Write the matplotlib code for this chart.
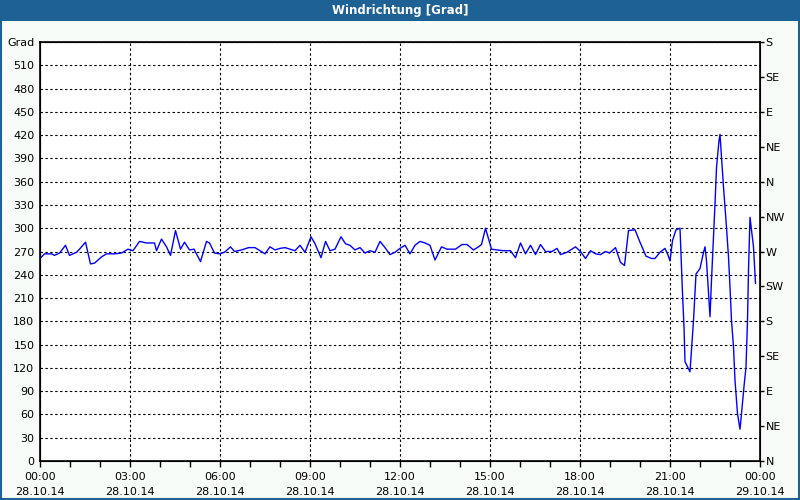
import numpy as np
import matplotlib.pyplot as plt
from matplotlib.patches import Rectangle

# ============================================================
# DATA
# ============================================================

# minutes after 28.10.14 00:00
MINUTES = [
    0, 9, 23, 29, 39, 51, 59, 73, 79, 91, 101, 109, 123, 133, 149, 163,
    176, 186, 199, 213, 229, 233, 243, 253, 261, 271, 281, 289, 299, 308,
    321, 333, 339, 349, 359, 369, 381, 389,
    403, 417, 430, 440, 450, 460, 470, 480, 490, 500, 510, 520, 530, 542,
    550, 562, 571, 580, 590, 602, 611, 620, 630, 640, 650, 660, 670, 680,
    690, 700, 710, 720, 730, 740, 750, 760, 770, 780, 790,
    803, 814, 831, 844, 854, 867, 877, 883, 891, 903, 914, 927, 941, 951,
    961, 971, 981, 991, 1001, 1011, 1024, 1034, 1041, 1054, 1071, 1081,
    1091, 1101, 1111, 1121, 1131, 1139, 1151, 1161, 1169, 1177, 1190,
    1200, 1212, 1223, 1230, 1240, 1250, 1255, 1260, 1265, 1272, 1280,
    1283, 1285, 1288, 1290, 1300, 1303, 1307, 1312, 1320, 1327, 1330,
    1333, 1337, 1340, 1343, 1347, 1350, 1353, 1358, 1360, 1363, 1367,
    1372, 1377, 1380, 1383, 1387, 1390, 1395, 1400, 1403, 1408, 1412,
    1415, 1417, 1420, 1422, 1427, 1430, 1431,
]

DIRECTION = [
    261, 267, 267, 265, 268, 278, 265, 269, 273, 282, 254, 255, 263, 267,
    267, 268, 273, 271, 283, 281, 281, 271, 286, 276, 265, 297, 273, 282,
    272, 273, 257, 283, 281, 268, 267, 269, 276, 270,
    272, 275, 275, 271, 267, 276, 272, 274, 275, 273, 271, 278, 269, 289,
    280, 262, 283, 271, 273, 289, 280, 278, 272, 275, 268, 271, 269, 283,
    275, 266, 269, 274, 278, 267, 278, 283, 281, 278, 259,
    276, 273, 273, 279, 279, 272, 276, 279, 300, 273, 272, 271, 271, 262,
    281, 267, 278, 266, 279, 270, 270, 274, 266, 269, 276, 270,
    261, 271, 267, 266, 270, 268, 275, 256, 252, 297, 298,
    282, 264, 261, 261, 269, 274, 267, 258, 284, 298, 300,
    250, 216, 173, 128, 115, 143, 181, 241, 248, 269, 276,
    258, 216, 186, 233, 288, 331, 378, 413, 421, 391, 353,
    310, 263, 224, 181, 147, 104, 61, 41, 61, 96, 121,
    181, 246, 314, 303, 276, 241, 229,
]

X_TICK_HOURS = [0, 3, 6, 9, 12, 15, 18, 21, 24]
X_TICK_LABELS = [
    "00:00\n28.10.14", "03:00\n28.10.14", "06:00\n28.10.14",
    "09:00\n28.10.14", "12:00\n28.10.14", "15:00\n28.10.14",
    "18:00\n28.10.14", "21:00\n28.10.14", "00:00\n29.10.14",
]

LEFT_TICKS = list(range(0, 541, 30))
LEFT_LABELS = [str(v) for v in range(0, 511, 30)] + ["Grad"]

COMPASS_TICKS = list(range(0, 541, 45))
COMPASS_LABELS = ["N", "NE", "E", "SE", "S", "SW", "W", "NW",
                  "N", "NE", "E", "SE", "S"]

TITLE = "Windrichtung [Grad]"

# ============================================================
# STYLE
# ============================================================

BG_COLOR = "#f8fcf8"
BAR_COLOR = "#1d6195"
LINE_COLOR = "#0000ff"
GRID_DASH = (0, (2.2, 2.2))

# ============================================================
# PLOT
# ============================================================

fig = plt.figure(figsize=(8, 5), dpi=100)
fig.patch.set_facecolor(BG_COLOR)

# title bar and frame
fig.patches.append(Rectangle((0, 1 - 21 / 500), 1, 21 / 500,
                             transform=fig.transFigure, facecolor=BAR_COLOR,
                             edgecolor="none", zorder=0))
fig.patches.append(Rectangle((0.001, 0.002), 0.998, 0.996,
                             transform=fig.transFigure, facecolor="none",
                             edgecolor=BAR_COLOR, linewidth=1.5, zorder=5))
fig.text(0.5, 1 - 10.5 / 500, TITLE, color="white", fontsize=8.5,
         fontweight="bold", ha="center", va="center")

ax = fig.add_axes([40 / 800, 39 / 500, 720 / 800, 419 / 500])
ax.set_facecolor("white")

hours = np.array(MINUTES) / 60.0
ax.plot(hours, DIRECTION, color=LINE_COLOR, linewidth=1.0, zorder=3)

ax.set_xlim(0, 24)
ax.set_ylim(0, 540)

ax.set_xticks(X_TICK_HOURS)
ax.set_xticklabels(X_TICK_LABELS, fontsize=8, linespacing=1.6)
ax.set_xticks(range(0, 25), minor=True)
ax.tick_params(axis="x", which="both", direction="out", length=4,
               width=1, pad=4)

ax.set_yticks(LEFT_TICKS)
ax.set_yticklabels(LEFT_LABELS, fontsize=8)
ax.tick_params(axis="y", length=0, pad=4)

ax.grid(True, which="major", color="black", linestyle=GRID_DASH,
        linewidth=0.8, zorder=1)

for side in ["left", "right", "top", "bottom"]:
    ax.spines[side].set_linewidth(1.2)
    ax.spines[side].set_color("black")

ax2 = ax.twinx()
ax2.set_ylim(0, 540)
ax2.set_yticks(COMPASS_TICKS)
ax2.set_yticklabels(COMPASS_LABELS, fontsize=8)
ax2.tick_params(axis="y", direction="out", length=3, width=1, pad=1)

plt.savefig("out.png", dpi=100, facecolor=BG_COLOR)
